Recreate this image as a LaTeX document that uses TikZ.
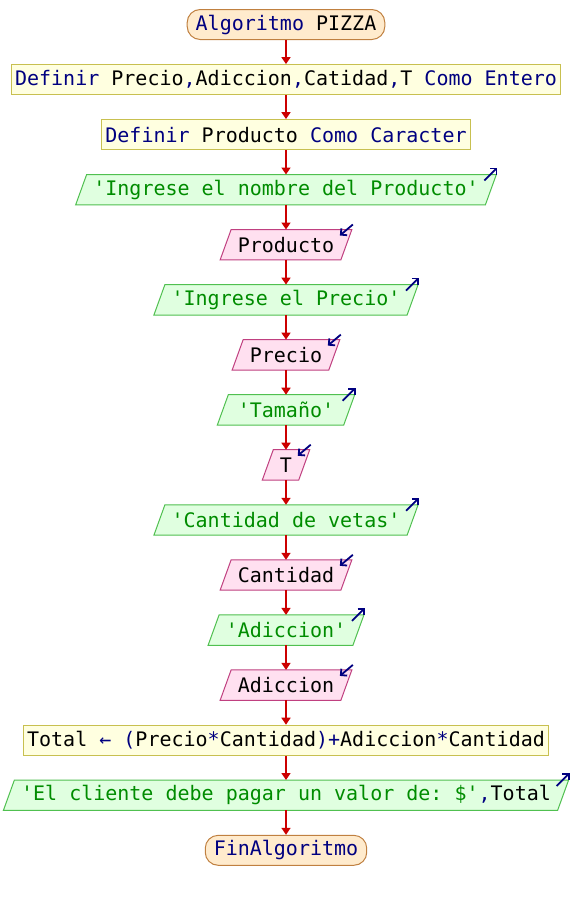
\documentclass[tikz,border=0pt]{standalone}
\usepackage{fontspec}
\setmonofont{DejaVu Sans Mono}
\usetikzlibrary{backgrounds,calc,arrows.meta}
\definecolor{kw}{HTML}{000080}
\definecolor{str}{HTML}{008C00}
\definecolor{flow}{HTML}{CC0000}
\definecolor{termfill}{HTML}{FFEBCD}
\definecolor{termdraw}{HTML}{C08040}
\definecolor{procfill}{HTML}{FFFFE0}
\definecolor{procdraw}{HTML}{C8C050}
\definecolor{outfill}{HTML}{E0FFE0}
\definecolor{outdraw}{HTML}{50C050}
\definecolor{infill}{HTML}{FFE0F0}
\definecolor{indraw}{HTML}{C04080}
\newcommand{\Kw}[1]{\textcolor{kw}{#1}}
\newcommand{\Str}[1]{\textcolor{str}{#1}}
\newcommand{\paral}[3]{%
  \draw[fill=#2, draw=#3, line width=1pt]
    ($(#1.south west)+(-5.5,0)$) -- ($(#1.north west)+(5.5,0)$) --
    ($(#1.north east)+(5.5,0)$) -- ($(#1.south east)+(-5.5,0)$) -- cycle;}
\newcommand{\outmark}[1]{%
  \draw[ioarrow] ($(#1.north east)+(-6.5,6)$) -- ($(#1.north east)+(6.5,-7)$);}
\newcommand{\inmark}[1]{%
  \draw[ioarrow] ($(#1.north east)+(6.5,-5)$) -- ($(#1.north east)+(-6.5,6)$);}
\begin{document}
\begin{tikzpicture}[x=1pt,y=-1pt,
  font=\ttfamily\fontsize{20}{24}\selectfont,
  term/.style={draw=termdraw, fill=termfill, rounded corners=13pt, minimum height=30pt, inner xsep=8.5pt, inner ysep=0pt, line width=1pt},
  proc/.style={draw=procdraw, fill=procfill, minimum height=30pt, inner xsep=4pt, inner ysep=0pt, line width=1pt},
  io/.style={minimum height=30pt, inner xsep=12pt, inner ysep=0pt},
  flowline/.style={draw=flow, line width=1.6pt, -{Triangle[length=7pt,width=9pt]}},
  ioarrow/.style={draw=kw, line width=1.8pt, -{Straight Barb[length=4.5pt,width=9pt]}}]
\useasboundingbox (0,0) rectangle (572,900);
\node[term] (n0) at (286,24.5) {\Kw{Algoritmo} PIZZA};
\node[proc] (n1) at (286,79.6) {\Kw{Definir} Precio\Kw{,}Adiccion\Kw{,}Catidad\Kw{,}T \Kw{Como} \Kw{Entero}};
\node[proc] (n2) at (286,134.6) {\Kw{Definir} Producto \Kw{Como} \Kw{Caracter}};
\node[io] (n3) at (286,189.7) {\Str{'Ingrese el nombre del Producto'}};
\node[io] (n4) at (286,244.7) {Producto};
\node[io] (n5) at (286,299.8) {\Str{'Ingrese el Precio'}};
\node[io] (n6) at (286,354.8) {Precio};
\node[io, minimum width=126pt] (n7) at (286,409.9) {\Str{'Tamaño'}};
\node[io] (n8) at (286,464.9) {T};
\node[io] (n9) at (286,520.0) {\Str{'Cantidad de vetas'}};
\node[io] (n10) at (286,575.0) {Cantidad};
\node[io] (n11) at (286,630.1) {\Str{'Adiccion'}};
\node[io] (n12) at (286,685.1) {Adiccion};
\node[proc] (n13) at (286,740.2) {Total \Kw{←} \Kw{(}Precio\Kw{*}Cantidad\Kw{)+}Adiccion\Kw{*}Cantidad};
\node[io] (n14) at (286,795.2) {\Str{'El cliente debe pagar un valor de: \$'}\Kw{,}Total};
\node[term] (n15) at (286,850.3) {\Kw{FinAlgoritmo}};
\begin{scope}[on background layer]
  \fill[white] (0,0) rectangle (572,900);
  \paral{n3}{outfill}{outdraw}
  \paral{n5}{outfill}{outdraw}
  \paral{n7}{outfill}{outdraw}
  \paral{n9}{outfill}{outdraw}
  \paral{n11}{outfill}{outdraw}
  \paral{n14}{outfill}{outdraw}
  \paral{n4}{infill}{indraw}
  \paral{n6}{infill}{indraw}
  \paral{n8}{infill}{indraw}
  \paral{n10}{infill}{indraw}
  \paral{n12}{infill}{indraw}
\end{scope}
\foreach \n in {n3,n5,n7,n9,n11,n14} {\outmark{\n}}
\foreach \n in {n4,n6,n8,n10,n12} {\inmark{\n}}
\foreach \a/\b in {n0/n1,n1/n2,n2/n3,n3/n4,n4/n5,n5/n6,n6/n7,n7/n8,n8/n9,n9/n10,n10/n11,n11/n12,n12/n13,n13/n14,n14/n15}
  {\draw[flowline] (\a.south) -- (\b.north);}
\end{tikzpicture}
\end{document}
